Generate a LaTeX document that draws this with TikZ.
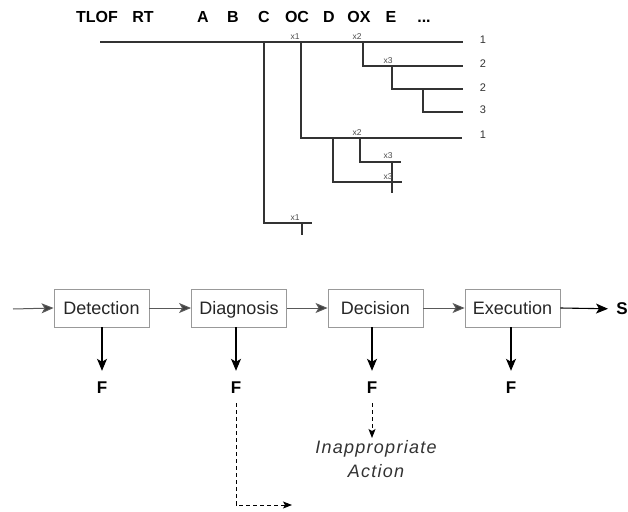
\documentclass[tikz,border=0pt]{standalone}
\usepackage{fontspec}
\setmainfont{Liberation Sans}
\usetikzlibrary{arrows.meta}
\begin{document}
\begin{tikzpicture}[x=1pt,y=-1pt,
  tree/.style={draw=black!80, line width=1.2pt},
  hdr/.style={font=\fontsize{16}{18}\selectfont\bfseries, anchor=base, inner sep=0pt},
  tag/.style={font=\fontsize{8.5}{9}\selectfont, text=black!70, inner sep=0pt},
  leaf/.style={font=\fontsize{11}{12}\selectfont, text=black!80, inner sep=0pt},
  stage/.style={draw=black!40, line width=0.9pt, minimum width=95pt, minimum height=38pt,
    font=\fontsize{18}{20}\selectfont, text=black!85, inner sep=0pt,
    text height=13pt, text depth=0pt},
  flow/.style={draw=black!65, line width=1pt,
    -{Stealth[length=12pt,width=10pt,inset=3pt,fill=black!75]}},
  fail/.style={draw=black, line width=1.1pt, -{Stealth[length=12pt,width=10pt,inset=3pt]}},
  late/.style={draw=black, line width=0.9pt, dash pattern=on 4pt off 3pt,
    -{Stealth[length=9pt,width=7pt,inset=2pt]}},
  outcome/.style={font=\fontsize{17}{19}\selectfont\bfseries, text height=12pt, text depth=0pt,
    inner ysep=10pt, inner xsep=2pt},
  result/.style={font=\fontsize{18}{24}\selectfont\itshape\addfontfeature{LetterSpace=7},
    text=black!80, align=center, inner sep=2pt}
]
\useasboundingbox (0,0) rectangle (628,511);

% column headings
\node[hdr] (hTLOF) at (97,23)  {TLOF};
\node[hdr] (hRT)   at (143,23) {RT};
\node[hdr] (hA)    at (203,23) {A};
\node[hdr] (hB)    at (233,23) {B};
\node[hdr] (hC)    at (264,23) {C};
\node[hdr] (hOC)   at (297,23) {OC};
\node[hdr] (hD)    at (329,23) {D};
\node[hdr] (hOX)   at (359,23) {OX};
\node[hdr] (hE)    at (391,23) {E};
\node[hdr] (hdots) at (424,23) {...};

% event tree
\draw[tree] (100,42) -- (463,42);
\draw[tree] (264,42) -- (264,223) -- (312,223);
\draw[tree] (302,223) -- (302,235);
\draw[tree] (301,42) -- (301,138) -- (462,138);
\draw[tree] (363,42) -- (363,66) -- (463,66);
\draw[tree] (392,66) -- (392,89) -- (463,89);
\draw[tree] (423,89) -- (423,112) -- (463,112);
\draw[tree] (360,138) -- (360,162) -- (401,162);
\draw[tree] (392,162) -- (392,193);
\draw[tree] (333,138) -- (333,182) -- (402,182);

% branch labels
\node[tag] (t1) at (295,37)  {x1};
\node[tag] (t2) at (357,37)  {x2};
\node[tag] (t3) at (388,61)  {x3};
\node[tag] (t4) at (357,133) {x2};
\node[tag] (t5) at (388,156) {x3};
\node[tag] (t6) at (388,177) {x3};
\node[tag] (t7) at (295,218) {x1};

% end states
\node[leaf] (e1) at (483,40)  {1};
\node[leaf] (e2) at (483,64)  {2};
\node[leaf] (e3) at (483,88)  {2};
\node[leaf] (e4) at (483,110) {3};
\node[leaf] (e5) at (483,135) {1};

% response stages
\coordinate (in) at (13,309);
\node[stage] (det)  at (101.5,308) {Detection};
\node[stage] (diag) at (239,308)   {Diagnosis};
\node[stage] (dec)  at (375.5,308) {Decision};
\node[stage] (exe)  at (512.5,308) {Execution};
\node[font=\fontsize{17}{19}\selectfont\bfseries, inner sep=0pt] (S) at (622,309) {S};

\draw[flow] (in) -- (det.west);
\draw[flow] (det.east) -- (diag.west);
\draw[flow] (diag.east) -- (dec.west);
\draw[flow] (dec.east) -- (exe.west);
\draw[fail, shorten >=14pt] (exe.east) -- (S.center);

% failure branches
\node[outcome] (fdet)  at (102,387) {F};
\node[outcome] (fdiag) at (236,387) {F};
\node[outcome] (fdec)  at (372,387) {F};
\node[outcome] (fexe)  at (511,387) {F};
\draw[fail] (det.south -| fdet) -- (fdet.north);
\draw[fail] (diag.south -| fdiag) -- (fdiag.north);
\draw[fail] (dec.south -| fdec) -- (fdec.north);
\draw[fail] (exe.south -| fexe) -- (fexe.north);

\node[result, anchor=north] (act) at (376,438) {Inappropriate\\Action};
\draw[late] (fdec.south) -- (fdec.south |- act.north);

\coordinate (later) at (292,505);
\draw[late] (fdiag.south) |- (later);
\end{tikzpicture}
\end{document}
